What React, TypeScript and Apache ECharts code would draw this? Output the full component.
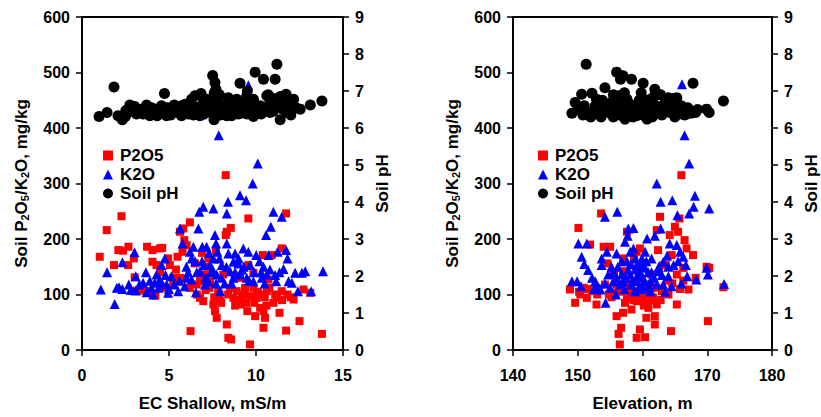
import React, { useEffect, useRef } from "react";
import * as echarts from "echarts";

// ---------- Data: left panel (EC Shallow, mS/m) ----------
const ecP2O5: number[][] = [
  [1.02, 168], [1.42, 216], [1.84, 153], [2.27, 241], [2.09, 180], [2.36, 179], [2.67, 186], [2.65, 153],
  [2.98, 165], [3.03, 131], [3.13, 107], [3.51, 107], [3.74, 186], [4.05, 180], [4.05, 159], [4.28, 153],
  [4.47, 183], [4.61, 184], [4.22, 98], [4.95, 165], [5.05, 153], [5.24, 130], [5.49, 168], [5.63, 213],
  [5.82, 219], [5.88, 198], [5.78, 177], [6.2, 230], [6.01, 189], [6.49, 156], [6.24, 34], [6.59, 118],
  [6.78, 94], [6.97, 88], [7.26, 165], [7.32, 112], [7.55, 82], [7.64, 70], [7.74, 58], [7.7, 180],
  [7.83, 106], [7.93, 88], [8.26, 315], [8.32, 213], [8.26, 207], [8.55, 220], [8.32, 46], [8.41, 22],
  [8.57, 19], [8.51, 112], [8.7, 94], [8.89, 106], [9.08, 82], [9.37, 112], [9.43, 85], [9.56, 237],
  [9.56, 153], [9.66, 10], [9.7, 97], [9.85, 112], [9.95, 61], [10.04, 94], [10.24, 76], [10.43, 70],
  [10.52, 58], [10.43, 40], [10.39, 171], [10.62, 106], [10.91, 171], [10.77, 112], [11.0, 85], [11.2, 94],
  [11.35, 67], [11.48, 183], [11.73, 246], [11.73, 35], [11.81, 100], [12.16, 91], [12.5, 52], [12.73, 109],
  [13.12, 103], [13.79, 29], [3.9, 106], [4.76, 112], [5.24, 118], [5.63, 130], [6.2, 112], [6.78, 124],
  [7.07, 136], [7.36, 124], [8.12, 136], [9.08, 130], [9.85, 139], [10.72, 127], [11.48, 106], [7.9, 100],
  [8.9, 90], [9.3, 100], [10.1, 105], [10.5, 95], [7.2, 150], [6.9, 175], [5.4, 145], [4.5, 140],
  [7.6, 95], [8.0, 85], [8.4, 100], [8.8, 80], [9.2, 95], [9.5, 70], [9.9, 85], [10.2, 100],
  [10.6, 80], [11.1, 100], [11.5, 90], [12.0, 95], [7.1, 108], [6.6, 100],
];
const ecK2O: number[][] = [
  [1.08, 109], [1.44, 140], [1.88, 83], [2.13, 113], [2.32, 158], [2.32, 110], [2.69, 118], [3.02, 176],
  [3.09, 133], [3.09, 107], [3.51, 121], [3.67, 140], [3.71, 104], [3.99, 112], [4.09, 100], [4.18, 121],
  [4.28, 136], [4.47, 127], [4.57, 153], [4.76, 165], [4.86, 118], [4.95, 103], [5.14, 133], [5.53, 106],
  [5.63, 219], [5.78, 192], [6.01, 130], [6.2, 177], [6.4, 186], [6.55, 104], [6.69, 219], [6.74, 249],
  [6.91, 186], [6.97, 258], [7.01, 153], [7.16, 186], [7.26, 124], [7.55, 255], [7.64, 207], [7.7, 192],
  [7.78, 177], [7.86, 387], [7.55, 165], [7.74, 136], [7.93, 106], [8.03, 153], [8.32, 246], [8.39, 267],
  [8.32, 192], [8.41, 174], [8.51, 142], [8.7, 159], [8.8, 174], [8.99, 156], [9.08, 279], [9.08, 136],
  [9.27, 183], [9.43, 270], [9.56, 177], [9.56, 477], [9.66, 153], [9.81, 300], [10.01, 171], [10.1, 336],
  [10.33, 130], [10.43, 150], [10.58, 207], [10.72, 171], [10.85, 222], [11.0, 249], [11.16, 124], [11.24, 177],
  [11.35, 140], [11.48, 240], [11.58, 146], [11.73, 180], [11.81, 165], [11.87, 124], [12.06, 121], [12.25, 139],
  [12.41, 106], [12.64, 139], [12.83, 142], [13.17, 106], [13.85, 142], [6.78, 142], [7.07, 118], [8.7, 130],
  [9.47, 130], [9.85, 124], [10.62, 136], [7.36, 153], [6.3, 127], [6.9, 425], [5.3, 118], [4.4, 112],
  [6.5, 160], [7.4, 140], [8.2, 120], [9.2, 145], [10.3, 140], [6.1, 140],
  [4.6, 120], [4.8, 135], [5.0, 110], [5.6, 125], [5.9, 115], [6.0, 150], [6.3, 165], [6.6, 140],
  [6.9, 160], [7.1, 130], [7.3, 175], [7.5, 145], [7.7, 120], [7.9, 165], [8.0, 130], [8.3, 150],
  [8.6, 120], [8.8, 140], [9.0, 165], [9.3, 150], [9.6, 125], [9.9, 140], [10.2, 160], [10.5, 120],
  [10.8, 145], [11.1, 135], [3.3, 118], [3.9, 125], [2.0, 112], [2.8, 108],
];
const ecPH: number[][] = [
  [0.98, 6.31], [1.44, 6.42], [1.84, 7.11], [2.07, 6.33], [2.32, 6.22], [2.52, 6.47], [2.75, 6.62], [3.03, 6.58],
  [3.13, 6.38], [3.42, 6.51], [3.71, 6.62], [3.9, 6.33], [4.13, 6.47], [4.32, 6.33], [4.57, 6.6], [4.74, 6.93],
  [4.86, 6.33], [5.05, 6.47], [5.24, 6.56], [5.53, 6.42], [5.72, 6.6], [5.92, 6.64], [6.11, 6.38], [6.3, 6.78],
  [6.49, 6.87], [6.68, 6.56], [6.84, 6.93], [6.97, 6.69], [7.16, 6.78], [7.36, 6.51], [7.51, 7.42], [7.64, 7.23],
  [7.7, 7.05], [7.59, 6.22], [7.84, 6.69], [8.03, 6.42], [8.12, 6.6], [8.41, 6.82], [8.6, 6.33], [8.8, 6.6],
  [8.99, 6.38], [9.08, 7.21], [9.27, 6.69], [9.47, 6.87], [9.7, 6.56], [9.95, 7.51], [10.01, 6.38], [10.24, 6.6],
  [10.43, 7.32], [10.62, 6.87], [10.81, 6.42], [11.1, 7.32], [11.2, 7.72], [11.39, 6.22], [11.54, 6.51], [11.73, 6.91],
  [11.77, 6.42], [12.16, 6.78], [12.54, 6.51], [13.12, 6.62], [13.79, 6.73], [6.78, 6.33], [8.32, 6.33], [9.85, 6.31],
  [7.16, 6.42], [8.7, 6.51], [6.4, 6.51], [6.01, 6.51], [4.28, 6.51], [3.51, 6.38], [5.72, 6.33], [9.47, 6.38],
  [10.91, 6.6], [9.85, 6.78], [8.89, 6.78], [7.9, 6.9], [10.4, 6.5], [11.0, 6.8], [12.3, 6.55], [5.4, 6.45],
  [3.3, 6.45], [3.8, 6.4], [4.0, 6.55], [4.6, 6.4], [4.9, 6.55], [5.1, 6.35], [5.3, 6.62], [5.6, 6.5],
  [5.9, 6.4], [6.2, 6.58], [6.4, 6.35], [6.6, 6.45], [6.9, 6.55], [7.0, 6.38], [7.3, 6.65], [7.5, 6.4],
  [7.7, 6.55], [7.95, 6.35], [8.2, 6.5], [8.5, 6.65], [8.6, 6.45], [8.9, 6.5], [9.1, 6.4], [9.3, 6.55],
  [9.6, 6.45], [9.8, 6.62], [10.1, 6.5], [10.3, 6.38], [10.6, 6.55], [10.8, 6.7], [11.0, 6.45], [11.3, 6.6],
  [11.6, 6.7], [11.9, 6.55], [12.0, 6.35], [2.9, 6.45], [2.5, 6.32], [7.6, 6.95], [7.65, 6.85], [9.5, 7.0],
  [10.7, 6.9], [11.4, 6.85],
];

// ---------- Data: right panel (Elevation, m) ----------
const elP2O5: number[][] = [
  [148.8, 109], [149.6, 85], [150.1, 220], [150.4, 100], [150.9, 112], [151.4, 94], [151.9, 190], [152.2, 106],
  [152.9, 82], [153.6, 246], [154.0, 186], [154.2, 118], [154.6, 156], [155.0, 186], [155.3, 103], [155.6, 136],
  [156.0, 61], [156.3, 29], [156.5, 10], [156.7, 40], [157.0, 67], [157.6, 213], [157.0, 165], [157.8, 112],
  [158.3, 73], [158.7, 165], [159.1, 22], [159.6, 37], [160.4, 23], [159.6, 183], [160.1, 94], [160.6, 58],
  [160.9, 76], [161.4, 136], [161.9, 61], [161.9, 46], [162.2, 216], [162.4, 180], [162.7, 240], [162.2, 82],
  [163.2, 153], [164.0, 100], [164.2, 207], [164.4, 34], [164.5, 171], [165.0, 222], [165.3, 82], [165.5, 213],
  [165.7, 237], [166.0, 315], [166.5, 198], [166.8, 183], [167.1, 109], [167.8, 171], [168.2, 130], [169.9, 150],
  [170.1, 52], [170.3, 148], [172.5, 113], [156.0, 118], [157.6, 94], [158.3, 106], [159.1, 88], [160.1, 112],
  [161.2, 100], [162.2, 112], [163.0, 106], [159.6, 130], [157.0, 142], [161.2, 118], [152.9, 112], [159.1, 177],
  [163.6, 153], [165.3, 136], [166.3, 148], [158.0, 95], [160.5, 85], [154.8, 100], [153.2, 108], [161.5, 90],
  [155.2, 95], [156.5, 105], [157.3, 85], [158.0, 120], [158.6, 90], [159.4, 100], [160.2, 80], [160.8, 105],
  [161.6, 95], [162.8, 90], [163.8, 125], [164.6, 120], [165.8, 110], [166.3, 125], [150.2, 105], [151.6, 110],
  [153.0, 100],
];
const elK2O: number[][] = [
  [149.1, 124], [149.9, 124], [150.1, 192], [150.6, 168], [151.4, 192], [151.6, 144], [152.2, 130], [152.7, 124],
  [153.5, 109], [153.7, 165], [153.7, 153], [154.2, 240], [154.3, 85], [154.5, 177], [154.7, 136], [155.5, 124],
  [155.9, 100], [156.1, 249], [156.0, 174], [156.8, 136], [157.3, 195], [157.7, 206], [157.8, 219], [158.1, 177],
  [158.6, 220], [158.3, 118], [158.6, 183], [159.1, 153], [159.5, 142], [159.9, 165], [160.1, 130], [160.4, 177],
  [160.7, 201], [161.2, 124], [161.4, 165], [161.9, 206], [162.2, 300], [162.4, 142], [162.8, 219], [162.8, 267],
  [163.2, 159], [164.0, 133], [164.2, 192], [164.5, 115], [164.6, 270], [164.8, 153], [165.3, 189], [165.4, 243],
  [165.8, 177], [166.1, 479], [166.3, 168], [166.5, 387], [166.5, 425], [166.7, 153], [166.9, 133], [167.2, 336],
  [167.2, 246], [167.9, 258], [168.1, 278], [168.3, 127], [169.9, 148], [170.1, 136], [170.3, 255], [172.6, 119],
  [157.0, 124], [158.1, 136], [159.1, 124], [160.1, 112], [161.2, 106], [162.2, 118], [159.6, 153], [160.4, 148],
  [157.6, 160], [156.5, 118], [155.0, 112], [163.2, 118], [158.8, 106], [158.9, 145], [160.9, 140], [159.5, 115],
  [155.5, 140], [156.2, 150], [156.8, 160], [157.4, 130], [157.8, 145], [158.2, 155], [158.5, 125], [158.9, 165],
  [159.3, 135], [159.7, 110], [160.0, 150], [160.3, 125], [160.6, 160], [161.0, 115], [161.4, 140], [161.8, 130],
  [162.5, 150], [163.0, 135], [163.5, 105], [157.2, 110], [156.0, 130], [155.2, 150], [154.2, 120], [153.0, 115],
  [150.5, 115], [151.0, 155], [152.5, 110], [163.8, 170], [165.5, 160], [166.0, 120], [164.0, 150],
];
const elPH: number[][] = [
  [149.1, 6.4], [149.6, 6.69], [150.6, 6.91], [151.3, 7.72], [151.4, 6.42], [152.2, 6.94], [152.7, 6.6], [153.2, 6.42],
  [154.2, 7.09], [154.0, 6.6], [154.7, 6.42], [155.2, 6.69], [156.0, 7.51], [156.3, 6.87], [156.6, 7.32], [157.0, 7.41],
  [157.3, 6.24], [157.6, 6.78], [158.3, 7.32], [158.6, 6.51], [159.4, 6.69], [160.1, 7.21], [160.4, 6.42], [160.7, 6.24],
  [161.2, 6.78], [161.9, 7.05], [162.2, 6.42], [163.2, 6.6], [164.0, 6.82], [164.8, 6.42], [165.3, 6.82], [166.0, 6.6],
  [166.8, 6.51], [167.8, 7.21], [168.2, 6.42], [169.9, 6.51], [170.3, 6.42], [172.5, 6.73], [155.0, 6.42], [156.0, 6.47],
  [158.1, 6.42], [159.6, 6.42], [161.2, 6.38], [162.7, 6.38], [164.2, 6.42], [165.7, 6.42], [159.1, 6.33], [157.0, 6.64],
  [160.1, 6.78], [161.6, 6.69], [163.4, 6.56], [152.9, 6.78], [151.9, 6.42], [156.0, 6.78], [158.8, 6.6], [160.9, 6.55],
  [150.0, 6.5], [150.8, 6.35], [151.0, 6.6], [152.0, 6.3], [153.0, 6.55], [153.6, 6.3], [154.4, 6.45], [155.5, 6.3],
  [155.8, 6.55], [156.5, 6.35], [157.0, 6.5], [157.8, 6.4], [158.0, 6.65], [158.5, 6.3], [159.0, 6.5], [159.5, 6.75],
  [160.0, 6.35], [160.5, 6.6], [161.0, 6.45], [161.5, 6.3], [162.0, 6.6], [162.5, 6.5], [163.0, 6.35], [163.5, 6.7],
  [164.5, 6.55], [165.0, 6.3], [165.5, 6.6], [166.5, 6.35], [167.0, 6.55], [167.5, 6.4], [168.5, 6.5], [153.8, 6.75],
  [155.5, 6.9], [157.2, 6.95], [159.8, 6.95], [161.8, 6.85], [164.8, 6.8], [156.8, 6.8], [162.8, 6.9],
];

// ---------- Axis ranges / labels ----------
const ecRange = [0, 15, 5];
const elRange = [140, 180, 10];
const leftRange = [0, 600, 100];
const rightRange = [0, 9, 1];
const xNames = ["EC Shallow, mS/m", "Elevation, m"];
const leftName = "Soil P{s|2}O{s|5}/K{s|2}O, mg/kg";
const rightName = "Soil pH";
const legendNames = ["P2O5", "K2O", "Soil pH"];

const FONT = "'Liberation Sans', Arial, sans-serif";
const tickTxt = { fontFamily: FONT, fontWeight: "bold" as const, fontSize: 16, color: "#000" };
const nameTxt = { fontFamily: FONT, fontWeight: "bold" as const, fontSize: 17, color: "#000" };

export default function App() {
  const ref = useRef<HTMLDivElement>(null);
  useEffect(() => {
    if (!ref.current) return;
    const chart = echarts.init(ref.current, undefined, { renderer: "svg" });
    const grids = [
      { left: 82, top: 17, width: 261, height: 335 },
      { left: 513, top: 17, width: 259, height: 335 },
    ];
    const axisLine = { show: true, lineStyle: { color: "#000", width: 2 } };
    const tick = { show: true, inside: false, length: 6, lineStyle: { color: "#000", width: 1.5 } };
    const xAxes = [ecRange, elRange].map((r, i) => ({
      type: "value",
      gridIndex: i,
      min: r[0],
      max: r[1],
      interval: r[2],
      position: "bottom",
      axisLine,
      axisTick: tick,
      splitLine: { show: false },
      axisLabel: { ...tickTxt, margin: 17 },
      name: xNames[i],
      nameLocation: "middle",
      nameGap: 45,
      nameTextStyle: { ...nameTxt },
    }));
    const yAxes: any[] = [];
    [0, 1].forEach((g) => {
      yAxes.push({
        type: "value",
        gridIndex: g,
        position: "left",
        min: leftRange[0],
        max: leftRange[1],
        interval: leftRange[2],
        axisLine,
        axisTick: tick,
        splitLine: { show: false },
        axisLabel: { ...tickTxt, margin: 12 },
        name: leftName,
        nameLocation: "middle",
        nameRotate: 90,
        nameGap: 52,
        nameTextStyle: {
          ...nameTxt,
          rich: {
            s: { fontFamily: FONT, fontWeight: "bold", fontSize: 11, color: "#000", verticalAlign: "bottom" },
          },
        },
      });
      yAxes.push({
        type: "value",
        gridIndex: g,
        position: "right",
        min: rightRange[0],
        max: rightRange[1],
        interval: rightRange[2],
        axisLine,
        axisTick: tick,
        splitLine: { show: false },
        axisLabel: { ...tickTxt, margin: 12 },
        name: rightName,
        nameLocation: "middle",
        nameRotate: 90,
        nameGap: 31,
        nameTextStyle: { ...nameTxt },
      });
    });
    const mk = (name: string, data: number[][], xi: number, yi: number, symbol: string, size: number, color: string) => ({
      type: "scatter",
      name,
      data,
      xAxisIndex: xi,
      yAxisIndex: yi,
      symbol,
      symbolSize: size,
      itemStyle: { color, opacity: 1 },
      emphasis: { disabled: true },
    });
    const legend = (left: number) => ({
      orient: "vertical",
      left,
      top: 142,
      itemWidth: 10,
      itemHeight: 10,
      itemGap: 2,
      selectedMode: false,
      textStyle: { ...nameTxt, padding: [0, 0, 0, 2] },
      data: [
        { name: legendNames[0], icon: "rect", itemStyle: { color: "#ff0000" } },
        { name: legendNames[1], icon: "triangle", itemStyle: { color: "#0000ff" } },
        { name: legendNames[2], icon: "circle", itemStyle: { color: "#000" } },
      ],
    });
    chart.setOption({
      animation: false,
      backgroundColor: "#fff",
      grid: grids.map((g) => ({ ...g, show: true, borderColor: "#000", borderWidth: 2, backgroundColor: "transparent" })),
      xAxis: xAxes,
      yAxis: yAxes,
      legend: [legend(98), legend(533)],
      series: [
        mk(legendNames[0], ecP2O5, 0, 0, "rect", 8, "#ff0000"),
        mk(legendNames[1], ecK2O, 0, 0, "triangle", 10, "#0000ff"),
        mk(legendNames[2], ecPH, 0, 1, "circle", 11, "#000000"),
        mk(legendNames[0], elP2O5, 1, 2, "rect", 8, "#ff0000"),
        mk(legendNames[1], elK2O, 1, 2, "triangle", 10, "#0000ff"),
        mk(legendNames[2], elPH, 1, 3, "circle", 11, "#000000"),
      ],
    });
    return () => chart.dispose();
  }, []);
  return <div ref={ref} style={{ position: "absolute", left: 0, top: 0, width: 821, height: 417 }} />;
}
